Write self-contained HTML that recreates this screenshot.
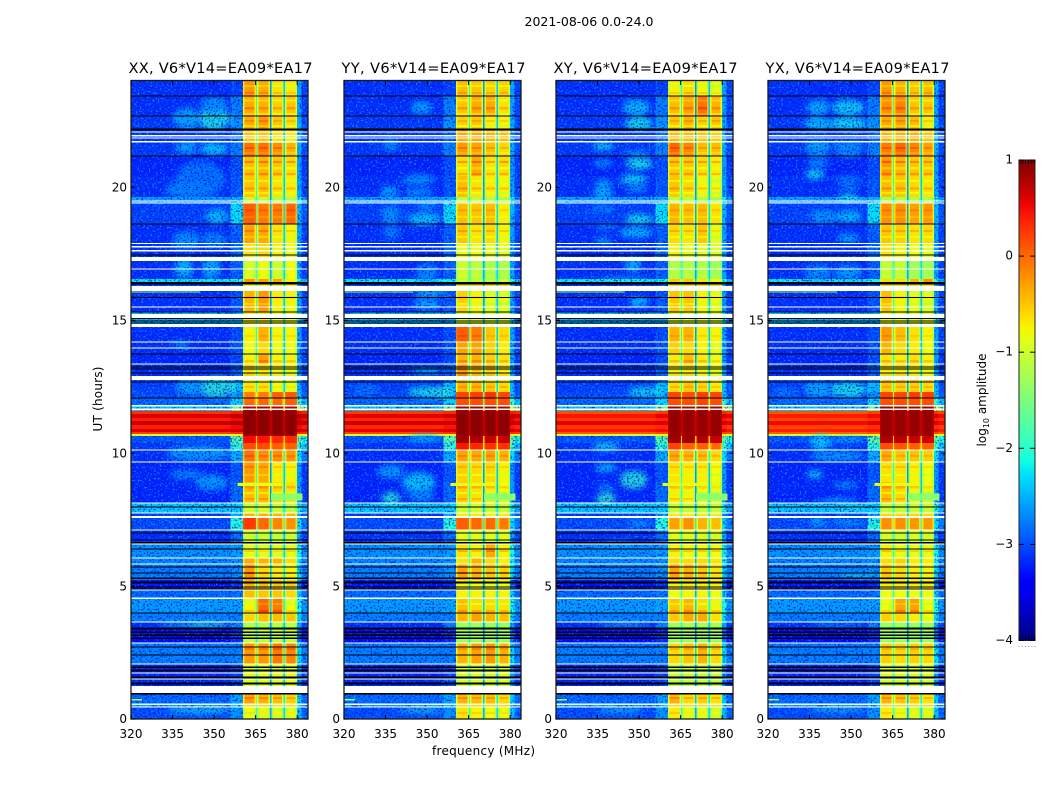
<!DOCTYPE html>
<html lang="en">
<head>
<meta charset="utf-8">
<title>2021-08-06 0.0-24.0</title>
<style>
html,body{margin:0;padding:0;background:#fff;}
svg{display:block;}
text{font-family:"DejaVu Sans","Liberation Sans",sans-serif;fill:#000;}
</style>
</head>
<body>
<svg id="chart" xmlns="http://www.w3.org/2000/svg" width="1050" height="800" viewBox="0 0 1050 800">
<defs>
<filter id="speckle-light" x="0" y="0" width="100%" height="100%" color-interpolation-filters="sRGB">
<feTurbulence type="fractalNoise" baseFrequency="0.55" numOctaves="1" seed="3"/>
<feColorMatrix type="matrix" values="0 0 0 0 0.05  0 0 0 0 0.62  0 0 0 0 1  8 0 0 0 -4.5"/>
</filter>
<filter id="speckle-dark" x="0" y="0" width="100%" height="100%" color-interpolation-filters="sRGB">
<feTurbulence type="fractalNoise" baseFrequency="0.55" numOctaves="1" seed="11"/>
<feColorMatrix type="matrix" values="0 0 0 0 0  0 0 0 0 0.08  0 0 0 0 0.85  8 0 0 0 -4.3"/>
</filter>
<filter id="patch-blur" x="-60%" y="-200%" width="220%" height="500%">
<feGaussianBlur stdDeviation="3"/>
</filter>
<linearGradient id="colorbar-gradient" x1="0" y1="1" x2="0" y2="0"></linearGradient>
</defs>
<text x="589" y="26" text-anchor="middle" font-size="12.5" textLength="129">2021-08-06 0.0-24.0</text>
<text x="483.5" y="755" text-anchor="middle" font-size="12" textLength="103">frequency (MHz)</text>
<text transform="translate(102,399) rotate(-90)" text-anchor="middle" font-size="12" textLength="65">UT (hours)</text>
<text transform="translate(986,400) rotate(-90)" text-anchor="middle" font-size="12">log<tspan font-size="8" dy="3">10</tspan><tspan dy="-3"> amplitude</tspan></text>
</svg>
<script>
// ---- data ----
const panelTitles = ['XX, V6*V14=EA09*EA17','YY, V6*V14=EA09*EA17','XY, V6*V14=EA09*EA17','YX, V6*V14=EA09*EA17'];
const panelKeys = ['xx','yy','xy','yx'];
const freqTicks = [320,335,350,365,380];
const hourTicks = [0,5,10,15,20];
const colorbarTicks = [1,0,-1,-2,-3,-4];
const colorbarTickLabels = ['1','0','\u22121','\u22122','\u22123','\u22124'];

// time-row boundaries (UT hours, top to bottom)
const hourEdges = [24,23.44,22.68,22.19,21.67,21.18,20.43,19.64,19.41,18.62,17.91,17.23,16.55,16.40,16.10,15.31,14.75,14.18,13.73,13.35,12.90,12.68,12.30,12.08,11.81,11.59,11.47,11.32,11.21,11.06,10.91,10.80,10.72,10.65,10.38,10.12,9.67,8.92,8.13,7.75,7.60,7.11,6.58,6.06,5.83,5.23,4.85,4.55,3.99,3.65,3.42,2.86,2.07,1.24,0.98,0.56,0.45,0];

// frequency-column boundaries (MHz) and what each column is
const freqEdges = [320,356,360.4,360.9,364.6,365.1,365.5,366,369.7,370.2,370.7,371.2,374.6,375.1,375.6,376.1,379.4,379.9,381.5,383.95];
const columnKinds = ['bg','near','s0','c0','s0','g0','s1','c1','s1','g1','s2','c2','s2','g2','s3','c3','s3','rs','r'];

// log10 amplitude per time row, shared by the panels
const backgroundLevels = [-3.15,-3.15,-3.1,-3.1,-3.1,-3.2,-3.15,-2.55,-3.05,-3.15,-3.15,-3.15,-2.2,-3.1,-3.15,-2.4,-3.15,-3.15,-3.2,-3.15,-3,-3.05,-3,-2.85,-2.4,0.3,0.6,0.4,0.7,0.4,0.6,0.25,-0.9,-2.95,-3.1,-3.15,-3.2,-3.2,-2.35,-3.1,-3,-3.15,-2.65,-2.7,-2.75,-3.3,-2.85,-2.6,-2.75,-3.15,-3.35,-2.75,-3.2,-3.1,-2.85,-2.5,-3];
const nearBandLevels = [-3.05,-2.75,-2.65,-2.85,-2.75,-3,-2.95,-2.45,-2.25,-2.9,-2.85,-2.9,-2.1,-2.95,-2.95,-2.4,-3,-2.95,-3,-2.9,-2.75,-2.45,-2.65,-2.3,-1.5,0.4,0.7,0.5,0.75,0.5,0.65,0.35,-0.8,-1.7,-2,-2.5,-2.95,-2.85,-2.3,-2.5,-2.05,-2.85,-2.6,-2.65,-2.65,-3.15,-2.8,-2.55,-2.75,-2.75,-3.15,-2.75,-3.05,-2.95,-2.55,-2.3,-2.65];
const rightEdgeLevels = [-3.05,-3.05,-3,-3,-3,-3.1,-3.05,-2.6,-2.95,-3.05,-3.05,-3.05,-2.4,-3,-3.05,-2.6,-3.05,-3.05,-3.1,-3.05,-2.9,-2.95,-2.9,-2.4,-1.5,0.4,0.7,0.5,0.7,0.4,0.6,0.3,-0.8,-2.1,-2.35,-2.75,-3.1,-3.1,-2.5,-3,-2.75,-3.05,-2.65,-2.7,-2.75,-3.25,-2.85,-2.6,-2.75,-3.05,-3.25,-2.75,-3.1,-3,-2.85,-2.6,-2.9];
const bandGapLevels = [-2.3,-2.3,-2.3,-2.3,-2.2,-2.3,-2.3,-2.2,-2.2,-2.3,-2.3,-2.2,-2,-2.3,-2.3,-2.2,-2.3,-2.3,-2.3,-2.3,-2.2,-2.2,-1.2,-1.2,-0.6,0.7,0.7,0.7,0.7,0.7,0.7,0.7,0.6,-0.6,-0.7,-2,-2.3,-2.3,-2.1,-2.2,-1.8,-2.3,-2.2,-2.2,-2.1,-2.5,-2.2,-2,-2.2,-2.3,-2.4,-2,-2.3,-2.3,-2.1,-2,-2.2];
const gapOffsets = [0.25,-0.35,-0.1];

// storm-row amplitude offset per panel (log10)
const stormOffsets = [0,-0.05,-0.15,-0.2];

// log10 amplitude of the four coarse bands, one row per time row
const bandLevelsXX = [
[-.25,-.35,-.65,-.7],[-.35,-.4,-.55,-.5],[-.35,-.25,-.5,-.6],[-.5,-.5,-.65,-.7],[-.05,-.05,-.2,-.4],[-.45,-.4,-.5,-.6],[-.5,-.5,-.65,-.7],[-1.05,-1.1,-1.2,-1.2],[.05,-.1,-.1,0],[-.3,-.35,-.65,-.75],
[-.65,-.6,-.75,-.8],[-.95,-.85,-1,-.8],[-.2,-.25,-.3,-.7],[-.7,-.7,-.7,-.7],[-.4,-.25,-.7,-.75],[-.7,-.7,-.8,-.8],[-.75,-.4,-.75,-.75],[-.8,-.6,-.8,-.8],[-.75,-.3,-.75,-.75],[-.55,-.6,-.7,-.75],
[-.8,-.8,-.8,-.8],[-.65,-.65,-.85,-.85],[-.1,-.1,.05,.1],[0,0,0,.05],[.8,.8,.8,.75],[.95,.95,.95,.95],[.95,.95,.95,.95],[.95,.95,.95,.95],[.95,.95,.95,.95],[.95,.95,.95,.95],
[.95,.95,.95,.95],[.95,.95,.95,.95],[.9,.9,.9,.9],[.5,.45,.35,.35],[.15,.15,.05,.05],[-.05,-.2,-.2,-.25],[-.25,-.35,-.7,-.75],[-.45,-.45,-.6,-.65],[-1,-.95,-1.05,-1.1],[-.4,-.4,-.4,-.4],
[.25,0,-.15,-.2],[-1,-1.05,-1.05,-1],[-.85,-.9,-.9,-.85],[-.35,-.4,-.4,-.6],[-.25,-.6,-.7,-.75],[-.4,-.45,-.5,-.55],[-.45,-.5,-.5,-.6],[-.75,0,-.1,-.8],[-.6,-.45,-.45,-.5],[-1.15,-1.2,-1.1,-1.1],
[-1.05,-1.1,-1.05,-1.05],[-.25,-.25,-.1,-.15],[-.9,-.9,-.9,-.85],[-.7,-.7,-.7,-.7],[-.3,-.4,-.45,-.55],[-.6,-.6,-.6,-.6],[-.85,-.9,-.95,-.9]
];
const bandLevelsYY = [
[-.45,-.5,-.55,-.55],[-.5,-.35,-.35,-.65],[-.55,-.5,-.7,-.75],[-.35,-.35,-.4,-.45],[-.25,-.3,-.45,-.6],[-.6,-.35,-.65,-.6],[-.45,-.65,-.7,-.75],[-1.1,-1.1,-1.2,-1.2],[-.45,-.5,-.45,-.7],[-.5,-.65,-.6,-.75],
[-.8,-.8,-.85,-.85],[-1,-1.1,-1.2,-1.2],[-1.05,-1.05,-1.05,-1.05],[-.6,-.6,-.6,-.6],[-.55,-.75,-.9,-.9],[-.9,-.9,-.9,-.9],[.05,-.1,-.5,-.6],[-.3,-.3,-.55,-.7],[-.4,-.4,-.55,-.65],[-.15,-.4,-.45,-.6],
[-.5,-.6,-.7,-.7],[-.4,-.4,-.5,-.6],[.2,.25,.3,.2],[.15,.15,.15,.15],[.85,.85,.85,.8],[.95,.95,.95,.95],[.95,.95,.95,.95],[.95,.95,.95,.95],[.95,.95,.95,.95],[.95,.95,.95,.95],
[.95,.95,.95,.95],[.95,.95,.95,.95],[.95,.95,.95,.95],[.85,.8,.7,.7],[.45,.35,.3,.3],[-.3,-.35,-.3,-.4],[-.55,-.6,-.6,-.75],[-.55,-.65,-.7,-.8],[-1,-1,-1.05,-1.05],[-.7,-.7,-.7,-.7],
[.05,0,0,-.1],[-.85,-.9,-.9,-.9],[-.65,-.75,-.35,-.75],[-.65,-.4,-.6,-.7],[-.3,-.4,-.5,-.55],[-.75,-.8,-.8,-.8],[-.75,-.75,-.75,-.75],[-.45,-.6,-.6,-.65],[-.4,-.3,-.4,-.45],[-1.3,-1.3,-1.3,-1.3],
[-1.3,-1.3,-1.3,-1.3],[-.4,-.3,-.25,-.4],[-.95,-.95,-.95,-.95],[-.8,-.8,-.8,-.8],[-.4,-.45,-.45,-.6],[-.6,-.6,-.6,-.6],[-.65,-.75,-.8,-.85]
];
const bandLevelsXY = [
[-.75,-.6,-.75,-.85],[-.45,-.3,-.05,-.4],[-.5,-.4,-.55,-.5],[-.45,-.45,-.5,-.55],[0,-.15,-.45,-.45],[-.5,-.5,-.6,-.7],[-.5,-.6,-.75,-.85],[-1.1,-1.1,-1.25,-1.25],[-.4,-.45,-.45,-.65],[-.6,-.65,-.5,-.85],
[-.75,-.85,-.9,-.9],[-1.15,-1.15,-1.15,-1.25],[-.5,-.5,-.65,-.75],[-.6,-.6,-.6,-.6],[-.5,-.5,-.75,-.85],[-.9,-.9,-.9,-.9],[-.4,-.4,-.7,-.75],[-.55,-.6,-.75,-.85],[-.7,-.45,-.7,-.8],[-.65,-.6,-.75,-.8],
[-.65,-.65,-.75,-.75],[-.6,-.5,-.6,-.7],[.2,.15,.25,.2],[.15,.15,.2,.15],[.85,.8,.85,.85],[.9,.9,.9,.9],[.9,.9,.9,.9],[.9,.9,.9,.9],[.9,.9,.9,.9],[.9,.9,.9,.9],
[.9,.9,.9,.9],[.9,.9,.9,.9],[.9,.9,.9,.9],[.85,.85,.8,.7],[.2,.05,.05,0],[-.35,-.4,-.45,-.6],[-.65,-.7,-.7,-.8],[-.7,-.75,-.8,-.9],[-1.05,-1.05,-1.05,-1.05],[-.7,-.7,-.7,-.7],
[-.3,-.2,-.4,-.45],[-.9,-.9,-.95,-.95],[-.75,-.8,-.8,-.8],[-.6,-.6,-.6,-.65],[-.3,-.4,-.5,-.65],[-.7,-.7,-.7,-.7],[-.8,-.75,-.75,-.8],[-.5,-.4,-.6,-.75],[-.5,-.35,-.35,-.65],[-1.25,-1.25,-1.25,-1.25],
[-1.3,-1.3,-1.3,-1.3],[-.6,-.5,-.4,-.6],[-1.05,-1.05,-1.05,-1.05],[-.8,-.8,-.8,-.8],[-.4,-.6,-.55,-.65],[-.6,-.6,-.6,-.6],[-.7,-.9,-.9,-1]
];
const bandLevelsYX = [
[-.25,-.4,-.5,-.45],[-.2,-.15,-.5,-.5],[-.35,-.3,-.45,-.7],[-.4,-.4,-.4,-.5],[-.1,0,-.15,-.3],[-.25,-.4,-.5,-.5],[-.45,-.5,-.6,-.65],[-1.2,-1.2,-1.2,-1.2],[-.2,-.2,-.3,-.25],[-.5,-.55,-.65,-.6],
[-.65,-.75,-.8,-.85],[-1.05,-1.05,-1.25,-1.25],[-.6,-.6,-.4,-.2],[-.6,-.6,-.6,-.6],[-.45,-.75,-.85,-.9],[-.8,-.8,-.8,-.8],[-.25,-.45,-.65,-.75],[-.4,-.6,-.7,-.8],[-.65,-.7,-.65,-.75],[-.6,-.6,-.7,-.75],
[-.4,-.4,-.4,-.45],[-.5,-.55,-.55,-.6],[.2,.2,.25,.25],[.15,.15,.15,.15],[.9,.85,.85,.85],[.9,.9,.9,.9],[.9,.9,.9,.9],[.9,.9,.9,.9],[.9,.9,.9,.9],[.9,.9,.9,.9],
[.9,.9,.9,.9],[.9,.9,.9,.9],[.9,.9,.9,.9],[.8,.75,.7,.65],[.15,.1,.05,.05],[-.35,-.5,-.5,-.55],[-.65,-.65,-.75,-.8],[-.45,-.6,-.75,-.85],[-1.05,-1.05,-1.05,-1.05],[-.6,-.6,-.6,-.6],
[-.2,-.2,-.25,-.25],[-.95,-1,-.95,-.95],[-.75,-.85,-.85,-.85],[-.6,-.55,-.7,-.7],[-.5,-.6,-.7,-.75],[-.7,-.7,-.7,-.7],[-.8,-.8,-.8,-.8],[-.8,-.3,-.3,-.8],[-.55,-.6,-.7,-.8],[-1.3,-1.3,-1.3,-1.3],
[-1.3,-1.3,-1.3,-1.3],[-.55,-.6,-.55,-.6],[-.95,-1,-.95,-.95],[-.8,-.8,-.8,-.8],[-.4,-.5,-.55,-.65],[-.6,-.6,-.6,-.6],[-.7,-.85,-.95,-.95]
];

// diffuse emission patches: [freq MHz, hour, half-width MHz, half-height h, log10 amplitude]
const patchesXX = [[350,22.6,6,.45,-2.05],[340,22.6,5,.4,-2.45],[350,23.1,5,.3,-2.55],[340,21.5,4,.25,-2.5],[350,21.45,5,.25,-2.3],[345,20.3,9,.7,-2.75],[340,19.9,8,.3,-2.65],[351,18.9,4,.3,-2.35],[340,18,5,.35,-2.55],[350,18,5,.3,-2.65],[339,16.95,3.5,.4,-2.35],[349,16.95,3.5,.4,-2.4],[351,12.5,7,.4,-2],[341,12.5,5,.3,-2.5],[338,14.1,3,.15,-2.6],[345,10,12,.3,-2.5],[340,9.2,6,.2,-2.65],[349,8.9,6,.3,-2.5],[342,3.55,12,.07,-2.1],[349,3.55,8,.07,-2],[345,.32,12,.1,-2.1]];
const patchesYY = [[348,23,4,.25,-2.5],[337,21.6,3,.2,-2.6],[347,20.3,6,.2,-2.55],[336.5,19.8,3.5,.25,-2.5],[347,19.8,5,.2,-2.6],[337,18.95,3.5,.35,-2.6],[349,18.8,6,.25,-2.3],[350,19.3,4,.15,-2.6],[337,18.3,3,.25,-2.65],[350,16.8,4,.35,-2.6],[351,16,6,.12,-2.2],[350,15.6,5,.2,-2.4],[350,13.1,6,.1,-2.2],[328,12.4,5,.15,-2.7],[351,12.3,8,.2,-2.1],[356,12.25,4,.15,-2],[349,10.55,6,.15,-2.5],[337,9.3,5,.25,-2.5],[347,8.9,6,.4,-2.25],[337,8.3,3.5,.25,-2],[348,8.4,5,.2,-2.55],[348,.33,8,.08,-2],[345,6.65,9,.05,-2.3]];
const patchesXY = [[349,23,5,.3,-2.3],[350,22.4,5,.25,-2.1],[337,21.55,4,.15,-2.2],[349,21.3,5,.1,-2.5],[337,20.9,3.5,.12,-2.4],[350,20.9,5,.25,-2.1],[348,20.3,5,.2,-2.2],[337,20.1,3,.2,-2.5],[337,19.8,3.5,.2,-2.3],[349,19.95,4,.1,-2.4],[337,19.2,4,.1,-2.5],[350,18.8,5,.2,-2.15],[338,18.5,4,.1,-2.6],[349,18.3,6,.2,-2.3],[337,18,3,.1,-2.3],[348,17.1,3,.3,-2.4],[345,16.55,10,.06,-2],[350,15.7,3.5,.2,-2.3],[353,12.3,7,.2,-2.2],[338,10.25,5,.15,-2.2],[338,9.45,4,.15,-2.3],[348,9,5,.35,-2],[338,8.3,3.5,.25,-1.95],[338,8.7,3,.1,-2.4],[347,8,8,.05,-2.3],[342,6.65,6,.05,-2.3],[343,.33,8,.07,-2.1],[345,3.55,10,.06,-2.1],[350,7.35,4,.1,-2.5]];
const patchesYX = [[338,23,4,.3,-2.4],[349,23,6,.3,-2.2],[338,22.4,5,.25,-2.3],[349,22.4,7,.25,-2.15],[338,21.55,5,.2,-2.4],[349,21.55,6,.15,-2.5],[338,21.25,4,.1,-2.3],[349,21.25,5,.1,-2.3],[337,20.5,3.5,.2,-2.15],[338,20.9,4,.15,-2.5],[349,20.3,5,.1,-2.5],[349,19.6,4,.15,-2.1],[349,20,4,.1,-2.5],[340,18.9,5,.25,-2.55],[349,18.9,5,.2,-2.3],[349,18.1,4,.15,-2.4],[338,16.8,5,.3,-2.6],[349,16.8,5,.3,-2.5],[349,12.4,7,.3,-2.1],[338,12.4,5,.3,-2.45],[326,12.3,4,.15,-2.7],[339,10.4,4,.3,-2.3],[349,10.5,5,.1,-2.4],[345,9.9,10,.2,-2.5],[337,9.2,3,.15,-2.2],[348,8.8,5,.12,-2.5],[345,8.2,8,.1,-2.4],[350,7.9,5,.08,-2.1],[338,7.4,3,.12,-2.3],[349,7.4,6,.1,-2.5],[352,5.4,6,.07,-2.1],[345,3.55,10,.06,-2.3],[345,.33,10,.07,-2.05]];

// thin ripple stripes inside the bands: [hour, thickness h, log10 offset]
const bandStripes = [[23.85,.08,-.2],[23.59,.08,.2],[23.3,.08,-.2],[23.02,.1,.25],[22.8,.08,-.2],[22.53,.08,.2],[22.35,.08,-.25],[21.97,.08,.2],[21.52,.08,.2],[21.33,.08,-.15],[21,.08,.35],[20.76,.08,-.2],[20.54,.08,.25],[20.28,.08,-.2],[20,.08,.3],[19.82,.08,-.2],[19.18,.08,.15],[18.92,.08,-.15],[18.4,.08,.25],[18.17,.08,-.2],[15.9,.08,.2],[15.65,.08,-.2],[14.45,.08,.15],[13.5,.08,.25],[13.1,.08,-.2],[12.53,.08,.2],[9.93,.08,.2],[9.52,.08,.2],[9.22,.08,-.2],[8.76,.08,.25],[8.54,.08,-.2],[8.31,.08,.2],[6.36,.08,.3],[5.53,.08,.3],[4.36,.08,-.2],[4.1,.08,.25],[2.67,.08,.2],[1.77,.08,.2],[.83,.08,.25],[.26,.08,.2]];

// narrow interference streaks: [start MHz, end MHz, hour, thickness h, log10 amplitude]
const streaks = [[358.5,375,8.82,.12,-.85],[370.5,382,8.35,.25,-1.4],[320,324,.72,.05,-1.3],[320,345,16.06,.03,-1.3]];

// flagged rows: [hour at top, thickness in hours]
const whiteFlags = [[22.1,.04],[21.97,.05],[21.88,.04],[21.74,.05],[19.51,.04],[19.43,.04],[17.91,.05],[17.79,.05],[17.64,.05],[17.38,.15],[16.95,.04],[16.29,.19],[15.52,.04],[15.24,.15],[14.86,.11],[14.2,.04],[13.98,.04],[13.37,.04],[12.9,.15],[11.81,.05],[11.68,.05],[10.14,.04],[9.69,.04],[8.15,.04],[7.77,.04],[7.63,.06],[7.13,.04],[6.6,.04],[6.08,.04],[5.85,.04],[4.87,.04],[4.57,.05],[3.67,.04],[2.88,.04],[2.09,.04],[1.75,.04],[1.52,.04],[1.24,.26],[.58,.05],[.47,.04]];
const blackFlags = [[23.46,.04],[22.7,.04],[22.22,.08],[21.2,.04],[18.64,.04],[17.47,.04],[16.43,.08],[15.87,.04],[15.33,.04],[15.09,.04],[14.99,.04],[14.92,.04],[13.75,.04],[13.26,.04],[13.19,.04],[13.04,.04],[12.7,.04],[12.1,.04],[7.99,.04],[7.02,.04],[6.75,.04],[6.65,.04],[6.42,.04],[5.74,.04],[5.51,.04],[5.32,.06],[5.18,.09],[4.99,.05],[4.91,.04],[4.01,.04],[3.44,.07],[3.29,.06],[3.18,.06],[3.07,.06],[2.73,.04],[2.43,.04],[1.98,.06],[1.86,.07],[1.6,.07],[1.37,.07],[.98,.05]];

const panelLefts = [131,344,556,768];
const bandLevels = {xx:bandLevelsXX,yy:bandLevelsYY,xy:bandLevelsXY,yx:bandLevelsYX};
const patchLevels = {xx:patchesXX,yy:patchesYY,xy:patchesXY,yx:patchesYX};

// ---- axes ----
const plotTop = 81, plotBottom = 719, plotWidth = 177;
const freqMin = 320, freqMax = 383.9, hourMin = 0, hourMax = 24;
const barX = 1019, barW = 16, barTop = 160, barBottom = 640.5, levelMin = -4, levelMax = 1;
function xScale(left, f){ return left + (f - freqMin) / (freqMax - freqMin) * plotWidth; }
function yScale(h){ return plotBottom - (h - hourMin) / (hourMax - hourMin) * (plotBottom - plotTop); }
function barScale(v){ return barBottom - (v - levelMin) / (levelMax - levelMin) * (barBottom - barTop); }

const jetR = [[0,0],[.35,0],[.66,1],[.89,1],[1,.5]];
const jetG = [[0,0],[.125,0],[.375,1],[.64,1],[.91,0],[1,0]];
const jetB = [[0,.5],[.11,1],[.34,1],[.65,0],[1,0]];
function lerp(tbl, t){
  for (let i = 1; i < tbl.length; i++) {
    if (t <= tbl[i][0]) {
      const a = tbl[i-1], b = tbl[i];
      return a[1] + (b[1]-a[1]) * (t-a[0]) / (b[0]-a[0]);
    }
  }
  return tbl[tbl.length-1][1];
}
function levelColor(v){
  const t = Math.max(0, Math.min(1, (v - levelMin) / (levelMax - levelMin)));
  return 'rgb(' + Math.round(lerp(jetR,t)*255) + ',' + Math.round(lerp(jetG,t)*255) + ',' + Math.round(lerp(jetB,t)*255) + ')';
}

const NS = 'http://www.w3.org/2000/svg';
const svg = document.getElementById('chart');
function make(tag, parent, attrs){
  const el = document.createElementNS(NS, tag);
  for (const k in attrs) el.setAttribute(k, attrs[k]);
  parent.appendChild(el);
  return el;
}
function cellLevel(kind, row, bands, panel){
  const storm = (row >= 25 && row <= 31) ? stormOffsets[panel] : 0;
  if (kind === 'bg') return backgroundLevels[row] + storm;
  if (kind === 'near') return nearBandLevels[row] + storm;
  if (kind === 'r') return rightEdgeLevels[row] + storm;
  if (kind === 'rs') return rightEdgeLevels[row] + (rightEdgeLevels[row] < -1 ? 0.5 : 0.1) + storm;
  const idx = +kind[1];
  if (kind[0] === 'g') return bandGapLevels[row] + (bandGapLevels[row] < -1 ? gapOffsets[idx] : 0);
  const v = bands[row][idx];
  if (kind[0] === 'c') return v;
  return v > 0 ? v - 0.1 : Math.max(v - 0.4, -1.5);
}
function rowForHour(h){
  for (let r = 0; r < hourEdges.length - 1; r++) {
    if (h <= hourEdges[r] && h > hourEdges[r+1]) return r;
  }
  return hourEdges.length - 2;
}

panelKeys.forEach(function(key, p){
  const left = panelLefts[p];
  const bands = bandLevels[key];
  const clipId = 'plot-clip-' + key, bgClipId = 'patch-clip-' + key, speckleClipId = 'speckle-clip-' + key;
  const defs = svg.querySelector('defs');
  const clip = make('clipPath', defs, {id: clipId});
  make('rect', clip, {x:left, y:plotTop, width:plotWidth, height:plotBottom-plotTop});
  const bgClip = make('clipPath', defs, {id: bgClipId});
  make('rect', bgClip, {x:left, y:plotTop, width:xScale(left,360.4)-left, height:plotBottom-plotTop});
  const spClip = make('clipPath', defs, {id: speckleClipId});
  const bandX = xScale(left,360.4), rightX = xScale(left,380.2), redTop = yScale(11.6), redBottom = yScale(10.65);
  make('rect', spClip, {x:left, y:plotTop, width:bandX-left, height:redTop-plotTop});
  make('rect', spClip, {x:left, y:redBottom, width:bandX-left, height:plotBottom-redBottom});
  make('rect', spClip, {x:rightX, y:plotTop, width:left+plotWidth-rightX, height:redTop-plotTop});
  make('rect', spClip, {x:rightX, y:redBottom, width:left+plotWidth-rightX, height:plotBottom-redBottom});

  const g = make('g', svg, {'clip-path':'url(#' + clipId + ')'});
  
  

  // heatmap cells
  for (let r = 0; r < hourEdges.length - 1; r++) {
    const y0 = Math.round(yScale(hourEdges[r])), y1 = Math.round(yScale(hourEdges[r+1]));
    for (let c = 0; c < columnKinds.length; c++) {
      const x0 = xScale(left, freqEdges[c]), x1 = xScale(left, freqEdges[c+1]);
      const cell = make('rect', g, {x:x0, y:y0, width:x1-x0+0.4, height:y1-y0, fill:levelColor(cellLevel(columnKinds[c], r, bands, p)), 'shape-rendering':'crispEdges'});
      
      
    }
  }

  // ripple stripes in each band core
  bandStripes.forEach(function(s){
    const r = rowForHour(s[0]);
    const y0 = yScale(s[0]), y1 = yScale(s[0]-s[1]);
    columnKinds.forEach(function(kind, c){
      if (kind[0] !== 'c') return;
      const x0 = xScale(left, freqEdges[c]), x1 = xScale(left, freqEdges[c+1]);
      const st = make('rect', g, {x:x0, y:y0, width:x1-x0, height:y1-y0, fill:levelColor(bands[r][+kind[1]] + s[2]), 'shape-rendering':'crispEdges'});
      
      
    });
  });

  // diffuse patches
  const patchGroup = make('g', g, {'clip-path':'url(#' + bgClipId + ')', opacity:0.8});
  
  
  patchLevels[key].forEach(function(a){
    const cx = xScale(left, a[0]), cy = yScale(a[1]);
    const rx = xScale(left, a[0]+a[2]) - cx, ry = yScale(a[1]-a[3]) - cy;
    const e = make('ellipse', patchGroup, {cx:cx, cy:cy, rx:rx, ry:ry, fill:levelColor(a[4]), filter:'url(#patch-blur)'});
    
    
  });

  // speckle texture over the noise floor
  const speck = make('g', g, {'clip-path':'url(#' + speckleClipId + ')', opacity:0.75});
  
  
  make('rect', speck, {x:left, y:plotTop, width:plotWidth, height:plotBottom-plotTop, fill:'#000', filter:'url(#speckle-light)'});
  make('rect', speck, {x:left, y:plotTop, width:plotWidth, height:plotBottom-plotTop, fill:'#000', filter:'url(#speckle-dark)'});

  // interference streaks
  streaks.forEach(function(s){
    const x0 = xScale(left, s[0]), x1 = xScale(left, s[1]);
    const y0 = yScale(s[2] + s[3]/2), y1 = yScale(s[2] - s[3]/2);
    const st = make('rect', g, {x:x0, y:y0, width:x1-x0, height:Math.max(1,y1-y0), fill:levelColor(s[4]), 'shape-rendering':'crispEdges'});
    
    
  });

  // flagged rows
  whiteFlags.forEach(function(f){
    const y0 = yScale(f[0]), y1 = yScale(f[0]-f[1]);
    const fl = make('rect', g, {x:left, y:y0, width:plotWidth, height:Math.max(1,y1-y0), fill:'#fff', 'shape-rendering':'crispEdges'});
    
    
  });
  blackFlags.forEach(function(f){
    const y0 = yScale(f[0]), y1 = yScale(f[0]-f[1]);
    const fl = make('rect', g, {x:left, y:y0, width:plotWidth, height:Math.max(1,y1-y0), fill:'#000', 'shape-rendering':'crispEdges'});
    
    
  });

  // frame
  const frame = make('rect', svg, {x:left, y:plotTop-0.5, width:plotWidth, height:plotBottom-plotTop+0.5, fill:'none', stroke:'#1a1a1a', 'stroke-width':1.3});
  
  

  // x ticks
  freqTicks.forEach(function(f){
    const x = xScale(left, f);
    const t1 = make('line', svg, {x1:x, x2:x, y1:plotBottom, y2:plotBottom-4, stroke:'#000', 'stroke-width':1});
    
    
    const t2 = make('line', svg, {x1:x, x2:x, y1:plotTop, y2:plotTop+4, stroke:'#000', 'stroke-width':1});
    
    
    const lab = make('text', svg, {x:x, y:738, 'text-anchor':'middle', 'font-size':12});
    
    
    lab.textContent = String(f);
  });

  // y ticks
  hourTicks.forEach(function(h){
    const y = yScale(h);
    const t1 = make('line', svg, {x1:left, x2:left+4, y1:y, y2:y, stroke:'#000', 'stroke-width':1});
    
    
    const t2 = make('line', svg, {x1:left+plotWidth, x2:left+plotWidth-4, y1:y, y2:y, stroke:'#000', 'stroke-width':1});
    
    
    const lab = make('text', svg, {x:left-4, y:y+4.2, 'text-anchor':'end', 'font-size':12});
    
    
    lab.textContent = String(h);
  });

  // title
  const title = make('text', svg, {x:left+plotWidth/2+1, y:73, 'text-anchor':'middle', 'font-size':14.6, textLength:184});
  
  
  title.textContent = panelTitles[p];
});

// ---- colorbar ----
const grad = document.getElementById('colorbar-gradient');
for (let i = 0; i <= 40; i++) {
  make('stop', grad, {offset:(i/40), 'stop-color':levelColor(levelMin + (levelMax-levelMin)*i/40)});
}
const bar = make('rect', svg, {x:barX, y:barTop, width:barW, height:barBottom-barTop, fill:'url(#colorbar-gradient)', stroke:'#222', 'stroke-width':1});


colorbarTicks.forEach(function(v, i){
  const y = barScale(v);
  const t1 = make('line', svg, {x1:barX, x2:barX+5, y1:y, y2:y, stroke:'#000', 'stroke-width':1});
  
  
  const t2 = make('line', svg, {x1:barX+barW, x2:barX+barW-5, y1:y, y2:y, stroke:'#000', 'stroke-width':1});
  
  
  const lab = make('text', svg, {x:1013, y:y+3.5, 'text-anchor':'end', 'font-size':12});
  
  
  lab.textContent = colorbarTickLabels[i];
});
for (let i = 0; i <= 5; i++) {
  const x = barX + i*barW/5;
  const t1 = make('line', svg, {x1:x, x2:x, y1:barTop, y2:barTop+4, stroke:'#000', 'stroke-width':0.8});
  
  
  const t2 = make('line', svg, {x1:x, x2:x, y1:barBottom, y2:barBottom-5, stroke:'#000', 'stroke-width':0.8});
  
  
  const d = make('rect', svg, {x:x-0.5, y:646, width:1, height:1, fill:'#999'});
  
  
}
</script>
</body>
</html>
